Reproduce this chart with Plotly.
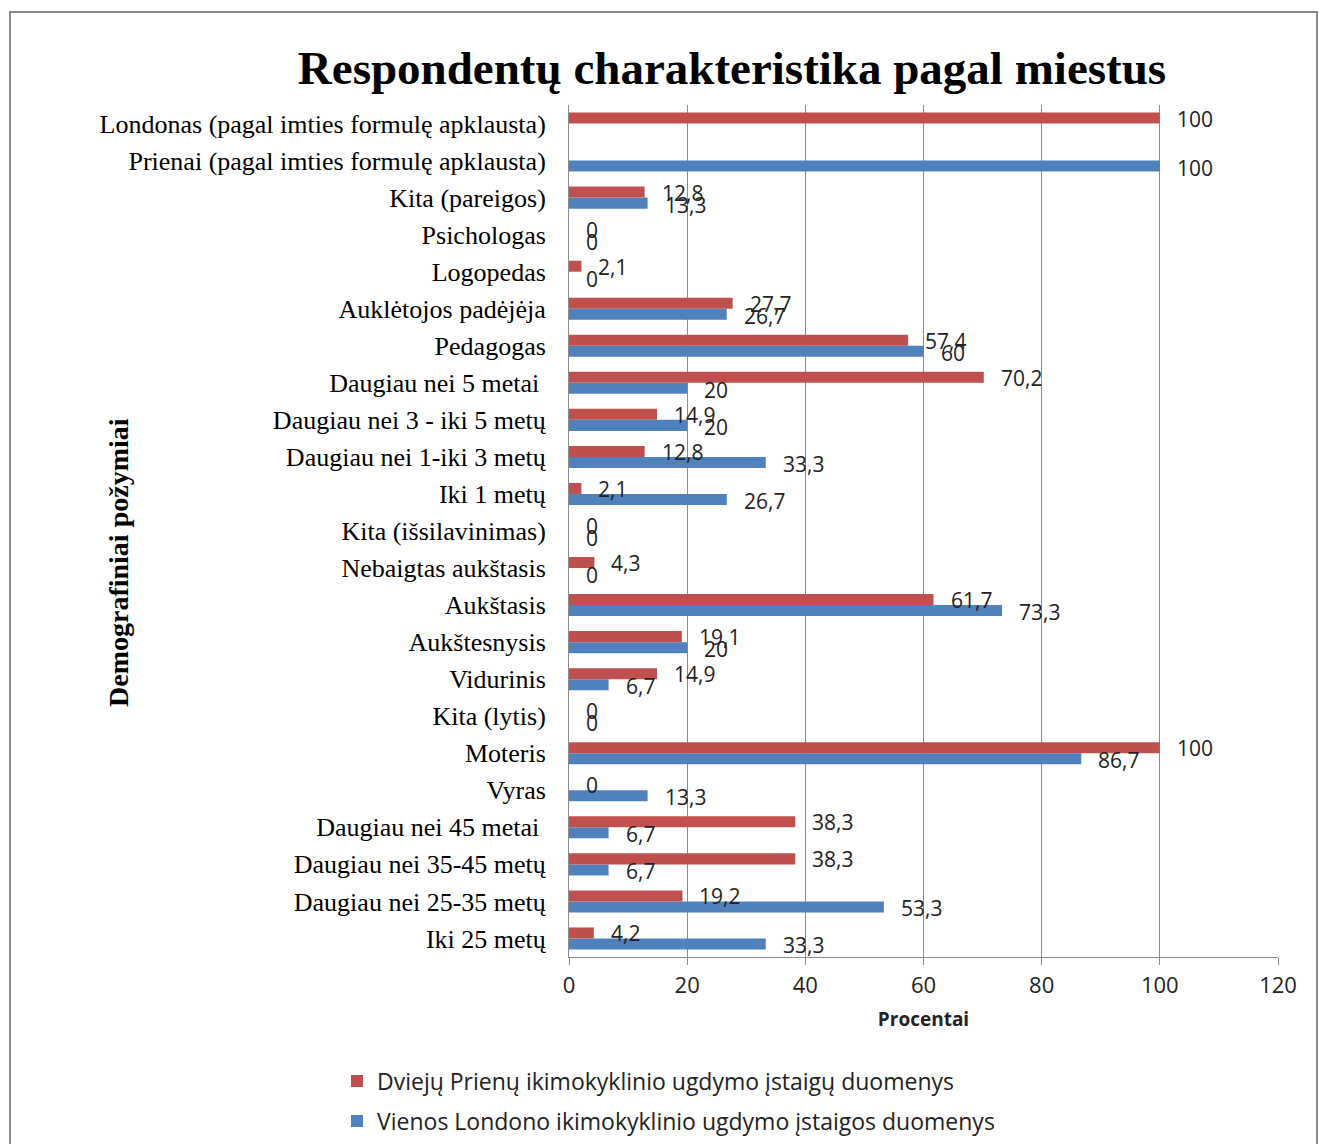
import plotly.graph_objects as go

# Categories listed bottom to top
categories = [
    "Iki 25 metų",
    "Daugiau nei 25-35 metų",
    "Daugiau nei 35-45 metų",
    "Daugiau nei 45 metai\u00a0",
    "Vyras",
    "Moteris",
    "Kita (lytis)",
    "Vidurinis",
    "Aukštesnysis",
    "Aukštasis",
    "Nebaigtas aukštasis",
    "Kita (išsilavinimas)",
    "Iki 1 metų",
    "Daugiau nei 1-iki 3 metų",
    "Daugiau nei 3 - iki 5 metų",
    "Daugiau nei 5 metai\u00a0",
    "Pedagogas",
    "Auklėtojos padėjėja",
    "Logopedas",
    "Psichologas",
    "Kita (pareigos)",
    "Prienai (pagal imties formulę apklausta)",
    "Londonas (pagal imties formulę apklausta)",
]

prienai_values = [4.2, 19.2, 38.3, 38.3, 0, 100, 0, 14.9, 19.1, 61.7, 4.3, 0,
                  2.1, 12.8, 14.9, 70.2, 57.4, 27.7, 2.1, 0, 12.8, None, 100]
londonas_values = [33.3, 53.3, 6.7, 6.7, 13.3, 86.7, 0, 6.7, 20, 73.3, 0, 0,
                   26.7, 33.3, 20, 20, 60, 26.7, 0, 0, 13.3, 100, None]

prienai_name = "Dviejų Prienų ikimokyklinio ugdymo įstaigų duomenys"
londonas_name = "Vienos Londono ikimokyklinio ugdymo įstaigos duomenys"

x_ticks = [0, 20, 40, 60, 80, 100, 120]

RED = "#C0504D"
BLUE = "#4F81BD"
GRID = "#8C8C8C"

W, H = 1319, 1144
L, R, T, B = 569, 41, 105, 187
PH = H - T - B
PW = W - L - R


def px_x(px):
    return (px - L) / PW


def px_y(py):
    return (H - B - py) / PH


def fmt(v):
    return f"{v:g}".replace(".", ",")


fig = go.Figure()

# Londono series first so it sits at the lower slot of each group
fig.add_trace(go.Bar(
    y=categories, x=londonas_values, orientation="h", name=londonas_name,
    marker=dict(color=BLUE, line=dict(width=0)), legend="legend2",
))
fig.add_trace(go.Bar(
    y=categories, x=prienai_values, orientation="h", name=prienai_name,
    marker=dict(color=RED, line=dict(width=0)), legend="legend",
))

label_font = dict(family="Open Sans, sans-serif", size=21, color="#222222")
annotations = []
for cat, v in zip(categories, prienai_values):
    if v is None:
        continue
    annotations.append(dict(x=v, y=cat, xref="x", yref="y", text=fmt(v),
                            showarrow=False, xanchor="left", yanchor="middle",
                            xshift=15, yshift=5, font=label_font))
for cat, v in zip(categories, londonas_values):
    if v is None:
        continue
    annotations.append(dict(x=v, y=cat, xref="x", yref="y", text=fmt(v),
                            showarrow=False, xanchor="left", yanchor="middle",
                            xshift=15, yshift=-7, font=label_font))

# Vertical axis title
annotations.append(dict(
    x=px_x(118), y=px_y(563), xref="paper", yref="paper",
    text="<b>Demografiniai požymiai</b>", textangle=-90, showarrow=False,
    xanchor="center", yanchor="middle",
    font=dict(family="Liberation Serif, serif", size=28, color="black"),
))

legend_font = dict(family="Open Sans, sans-serif", size=23, color="#222222")

fig.update_layout(
    width=W, height=H, autosize=False,
    margin=dict(l=L, r=R, t=T, b=B, autoexpand=False),
    paper_bgcolor="white", plot_bgcolor="white",
    barmode="group", bargap=0.405, bargroupgap=0,
    title=dict(
        text="<b>Respondentų charakteristika pagal miestus</b>",
        x=732 / W, xref="container", xanchor="center",
        y=1 - 68 / H, yref="container", yanchor="middle",
        font=dict(family="Liberation Serif, serif", size=47, color="black"),
    ),
    xaxis=dict(
        range=[0, 120], tickvals=x_ticks, ticktext=[str(t) for t in x_ticks],
        showgrid=True, gridcolor=GRID, gridwidth=1,
        showline=True, linecolor=GRID, linewidth=1,
        ticks="outside", ticklen=7, tickcolor=GRID, ticklabelstandoff=2,
        tickfont=dict(family="Open Sans, sans-serif", size=22, color="#222222"),
        zeroline=False,
        title=dict(text="<b>Procentai</b>", standoff=14,
                   font=dict(family="Open Sans, sans-serif", size=19, color="#222222")),
    ),
    yaxis=dict(
        type="category", categoryorder="array", categoryarray=categories,
        range=[-0.5, len(categories) - 0.5],
        showgrid=False, showline=True, linecolor=GRID, linewidth=1,
        ticks="", ticklabelstandoff=17,
        tickfont=dict(family="Liberation Serif, serif", size=26, color="black"),
        zeroline=False,
    ),
    legend=dict(
        xref="container", yref="container",
        x=337 / W, y=1 - 1081 / H, xanchor="left", yanchor="middle",
        bgcolor="rgba(0,0,0,0)", font=legend_font,
    ),
    legend2=dict(
        xref="container", yref="container",
        x=337 / W, y=1 - 1121 / H, xanchor="left", yanchor="middle",
        bgcolor="rgba(0,0,0,0)", font=legend_font,
    ),
    annotations=annotations,
    shapes=[dict(
        type="rect", xref="paper", yref="paper",
        x0=px_x(10), x1=px_x(1317), y0=px_y(1160), y1=px_y(12),
        line=dict(color="#888888", width=2), fillcolor="rgba(0,0,0,0)",
        layer="below",
    )],
    showlegend=True,
)

fig.write_html("out.html")
